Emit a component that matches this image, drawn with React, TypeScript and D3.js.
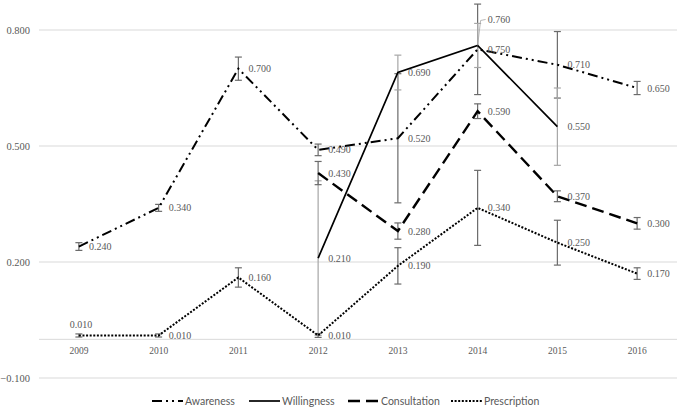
import React from "react";
import * as d3 from "d3";

const years = ["2009", "2010", "2011", "2012", "2013", "2014", "2015", "2016"];
const yTicks = [-0.1, 0.2, 0.5, 0.8];

const awareness = [0.24, 0.34, 0.7, 0.49, 0.52, 0.75, 0.71, 0.65];
const awarenessErr = [0.01, 0.009, 0.03, 0.015, 0.167, 0.117, 0.086, 0.017];
const willingness = [null, null, null, 0.21, 0.69, 0.76, 0.55, null];
const willingnessErr = [null, null, null, 0.2, 0.045, 0.057, 0.1, null];
const consultation = [null, null, null, 0.43, 0.28, 0.59, 0.37, 0.3];
const consultationErr = [null, null, null, 0.03, 0.021, 0.019, 0.014, 0.015];
const prescription = [0.01, 0.01, 0.16, 0.01, 0.19, 0.34, 0.25, 0.17];
const prescriptionErr = [0.004, 0.004, 0.025, 0.005, 0.047, 0.097, 0.058, 0.015];

const seriesNames = ["Awareness", "Willingness", "Consultation", "Prescription"];

type Series = {
  name: string;
  values: (number | null)[];
  errs: (number | null)[];
  dash: string;
  width: number;
  errColor: string;
};

const series: Series[] = [
  { name: seriesNames[0], values: awareness, errs: awarenessErr, dash: "10,4,2,4,2,4", width: 2, errColor: "#6b6b6b" },
  { name: seriesNames[1], values: willingness, errs: willingnessErr, dash: "", width: 1.7, errColor: "#a6a6a6" },
  { name: seriesNames[2], values: consultation, errs: consultationErr, dash: "12,6", width: 2.4, errColor: "#6b6b6b" },
  { name: seriesNames[3], values: prescription, errs: prescriptionErr, dash: "2,1.6", width: 2, errColor: "#6b6b6b" },
];

const W = 680;
const H = 409;

const serif = "Liberation Serif, Times New Roman, Times, serif";
const sans = "Lato, Open Sans, sans-serif";
const labelColor = "#595959";

export default function App() {
  const x = d3.scaleBand<string>().domain(years).range([39, 677]);
  const cx = (yr: string) => (x(yr) as number) + x.bandwidth() / 2;
  const y = d3.scaleLinear().domain([-0.1, 0.8]).range([378, 30]);

  const line = d3
    .line<{ yr: string; v: number | null }>()
    .defined((d) => d.v !== null)
    .x((d) => cx(d.yr))
    .y((d) => y(d.v as number));

  const legendWidths = [46, 48, 52, 52];
  let lx = 152;
  const legendPos = legendWidths.map((w) => {
    const p = lx;
    lx += 31 + 2 + w + 18;
    return p;
  });

  const serifStyle = { fontFamily: serif };

  return (
    <svg
      width={W}
      height={H}
      style={{ position: "absolute", left: 0, top: 0, background: "#fff" }}
    >
      {yTicks.map((t) => (
        <g key={t}>
          <line x1={39} x2={677} y1={y(t)} y2={y(t)} stroke="#d9d9d9" strokeWidth={1} />
          <text x={30} y={y(t)} dy="0.35em" textAnchor="end" style={serifStyle} fontSize={10.5} fill={labelColor}>
            {d3.format(".3f")(t)}
          </text>
        </g>
      ))}
      <line x1={39} x2={677} y1={y(0)} y2={y(0)} stroke="#d9d9d9" strokeWidth={1} />
      {years.map((yr) => (
        <text key={yr} x={cx(yr)} y={351} dy="0.35em" textAnchor="middle" style={serifStyle} fontSize={9.5} fill={labelColor}>
          {yr}
        </text>
      ))}

      {series.map((s) =>
        s.values.map((v, i) => {
          const e = s.errs[i];
          if (v === null || e === null) return null;
          const xx = cx(years[i]);
          const y1 = y(v + e);
          const y2 = y(v - e);
          return (
            <g key={s.name + i} stroke={s.errColor} strokeWidth={1.2}>
              <line x1={xx} x2={xx} y1={y1} y2={y2} />
              <line x1={xx - 3.5} x2={xx + 3.5} y1={y1} y2={y1} />
              <line x1={xx - 3.5} x2={xx + 3.5} y1={y2} y2={y2} />
            </g>
          );
        })
      )}

      {series.map((s) => (
        <path
          key={s.name}
          d={line(years.map((yr, i) => ({ yr, v: s.values[i] }))) || ""}
          fill="none"
          stroke="#000"
          strokeWidth={s.width}
          strokeDasharray={s.dash}
        />
      ))}

      {series.map((s, si) =>
        s.values.map((v, i) => {
          if (v === null) return null;
          const xx = cx(years[i]);
          const yy = y(v);
          const txt = d3.format(".3f")(v);
          if (si === 3 && i === 0) {
            return (
              <text key={s.name + "l" + i} x={xx + 2} y={yy - 11} dy="0.35em" textAnchor="middle"
                style={serifStyle} fontSize={10} fill={labelColor}>{txt}</text>
            );
          }
          if (si === 1 && i === 5) {
            return (
              <g key={s.name + "l" + i}>
                <polyline points={`${xx},${yy} ${xx + 3},${yy - 25} ${xx + 8},${yy - 26}`} fill="none" stroke="#a6a6a6" strokeWidth={0.8} />
                <text x={xx + 10} y={yy - 26} dy="0.35em" style={serifStyle} fontSize={10} fill={labelColor}>{txt}</text>
              </g>
            );
          }
          return (
            <text key={s.name + "l" + i} x={xx + 10} y={yy} dy="0.35em"
              style={serifStyle} fontSize={10} fill={labelColor}>{txt}</text>
          );
        })
      )}

      {series.map((s, i) => (
        <g key={"lg" + s.name}>
          <line x1={legendPos[i]} x2={legendPos[i] + 31} y1={401} y2={401} stroke="#000"
            strokeWidth={s.width} strokeDasharray={s.dash} />
          <text x={legendPos[i] + 33} y={401} dy="0.35em" style={{ fontFamily: sans }}
            fontSize={10.5} fill={labelColor}>{s.name}</text>
        </g>
      ))}
    </svg>
  );
}
